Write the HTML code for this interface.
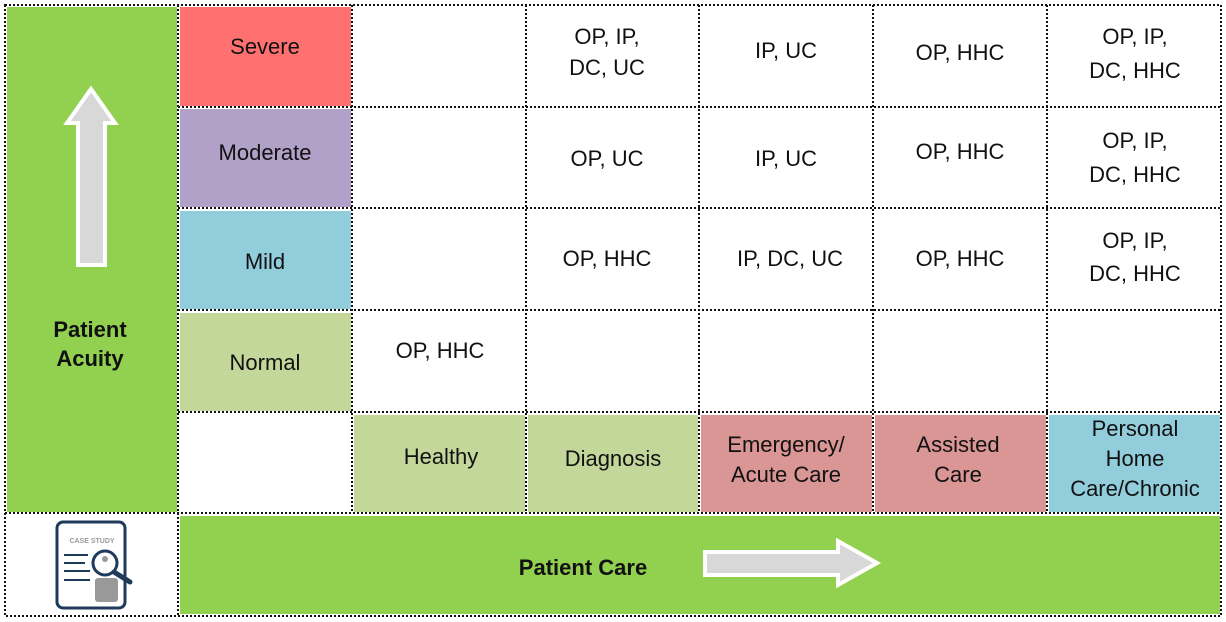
<!DOCTYPE html><html><head><style>body{margin:0;background:#fff}svg{display:block}text{font-family:"Liberation Sans",sans-serif;font-size:22px;fill:#111;text-anchor:middle}</style></head><body>
<svg width="1226" height="622" viewBox="0 0 1226 622">
<rect x="7" y="7" width="170" height="505" fill="#92d050"/>
<rect x="180" y="516" width="1040" height="98" fill="#92d050"/>
<rect x="180" y="7" width="171" height="99" fill="#ff7171"/>
<rect x="180" y="109" width="171" height="98" fill="#b1a0c7"/>
<rect x="180" y="211" width="171" height="98" fill="#92cddc"/>
<rect x="180" y="313" width="171" height="98" fill="#c4d79b"/>
<rect x="354" y="415" width="171" height="97" fill="#c4d79b"/>
<rect x="528" y="415" width="170" height="97" fill="#c4d79b"/>
<rect x="701" y="415" width="171" height="97" fill="#da9694"/>
<rect x="875" y="415" width="171" height="97" fill="#da9694"/>
<rect x="1049" y="415" width="171" height="97" fill="#92cddc"/>
<g stroke="#111" stroke-width="2" stroke-dasharray="2,2" fill="none">
<rect x="5" y="5" width="1216" height="611"/>
<line x1="178" y1="5" x2="178" y2="616"/>
<line x1="352" y1="5" x2="352" y2="513"/>
<line x1="526" y1="5" x2="526" y2="513"/>
<line x1="699" y1="5" x2="699" y2="513"/>
<line x1="873" y1="5" x2="873" y2="513"/>
<line x1="1047" y1="5" x2="1047" y2="513"/>
<line x1="178" y1="107" x2="1221" y2="107"/>
<line x1="178" y1="208" x2="1221" y2="208"/>
<line x1="178" y1="310" x2="1221" y2="310"/>
<line x1="178" y1="412" x2="1221" y2="412"/>
<line x1="5" y1="513" x2="1221" y2="513"/>
</g>
<path d="M91,89 L115,123 L105,123 L105,265 L78,265 L78,123 L67,123 Z" fill="#d8d8d8" stroke="#fff" stroke-width="4"/>
<path d="M705,552 L838,552 L838,541 L877,563 L838,585 L838,575 L705,575 Z" fill="#d8d8d8" stroke="#fff" stroke-width="4"/>
<text x="90" y="337" font-weight="bold">Patient</text>
<text x="90" y="366" font-weight="bold">Acuity</text>
<text x="583" y="575" font-weight="bold">Patient Care</text>
<text x="265" y="54">Severe</text><text x="265" y="160">Moderate</text><text x="265" y="269">Mild</text><text x="265" y="370">Normal</text>
<text x="440" y="358">OP, HHC</text>
<text x="441" y="464">Healthy</text><text x="613" y="466">Diagnosis</text>
<text x="786" y="452">Emergency/</text><text x="786" y="482">Acute Care</text>
<text x="958" y="452">Assisted</text><text x="958" y="482">Care</text>
<text x="1135" y="436">Personal</text><text x="1135" y="466">Home</text><text x="1135" y="496">Care/Chronic</text>
<text x="607" y="44">OP, IP,</text><text x="607" y="75">DC, UC</text>
<text x="786" y="58">IP, UC</text><text x="960" y="60">OP, HHC</text>
<text x="1135" y="44">OP, IP,</text><text x="1135" y="78">DC, HHC</text>
<text x="607" y="166">OP, UC</text><text x="786" y="166">IP, UC</text><text x="960" y="159">OP, HHC</text>
<text x="1135" y="148">OP, IP,</text><text x="1135" y="182">DC, HHC</text>
<text x="607" y="266">OP, HHC</text><text x="790" y="266">IP, DC, UC</text><text x="960" y="266">OP, HHC</text>
<text x="1135" y="248">OP, IP,</text><text x="1135" y="281">DC, HHC</text>
<rect x="57" y="522" width="68" height="86" rx="6" fill="#fff" stroke="#1f3b5c" stroke-width="3"/>
<text x="92" y="543" style="font-size:7px;fill:#999;font-weight:bold">CASE STUDY</text>
<g stroke="#1f3b5c" stroke-width="2"><line x1="64" y1="555" x2="88" y2="555"/><line x1="64" y1="563" x2="85" y2="563"/><line x1="64" y1="571" x2="90" y2="571"/><line x1="64" y1="580" x2="90" y2="580"/></g>
<rect x="95" y="578" width="23" height="24" rx="3" fill="#999"/>
<circle cx="105" cy="563" r="12" fill="#fff" stroke="#1f3b5c" stroke-width="3"/>
<line x1="114" y1="572" x2="130" y2="582" stroke="#1f3b5c" stroke-width="5" stroke-linecap="round"/>
<circle cx="105" cy="559" r="3" fill="#999"/>
</svg></body></html>
